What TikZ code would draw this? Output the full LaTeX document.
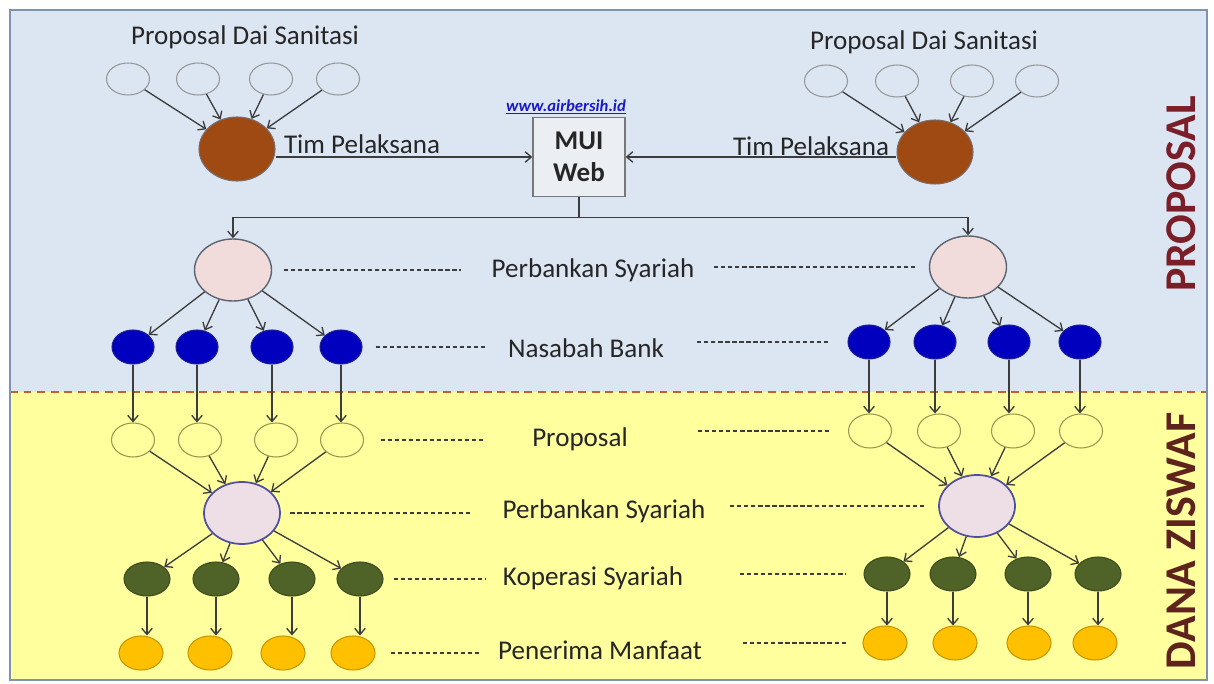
\documentclass[tikz,border=0pt]{standalone}
\usepackage{fontspec}
\setmainfont{Carlito}
\usetikzlibrary{arrows.meta,shapes.geometric}
\definecolor{topbg}{RGB}{220,230,242}
\definecolor{botbg}{RGB}{255,255,158}
\definecolor{frameln}{RGB}{127,147,175}
\definecolor{sepln}{RGB}{192,96,58}
\definecolor{lnc}{RGB}{60,60,60}
\definecolor{txt}{RGB}{38,38,38}
\definecolor{urlblue}{RGB}{25,25,200}
\definecolor{boxbg}{RGB}{235,238,242}
\definecolor{boxln}{RGB}{120,120,120}
\definecolor{brn}{RGB}{158,74,18}
\definecolor{brnln}{RGB}{120,110,110}
\definecolor{smln}{RGB}{150,150,150}
\definecolor{pinka}{RGB}{242,220,219}
\definecolor{pinkaln}{RGB}{90,100,115}
\definecolor{bluef}{RGB}{0,0,190}
\definecolor{blueln}{RGB}{30,30,150}
\definecolor{propln}{RGB}{150,150,80}
\definecolor{pinkb}{RGB}{238,222,230}
\definecolor{pinkbln}{RGB}{80,80,160}
\definecolor{grn}{RGB}{79,98,40}
\definecolor{grnln}{RGB}{60,75,30}
\definecolor{org}{RGB}{255,192,0}
\definecolor{orgln}{RGB}{200,150,0}
\definecolor{mara}{RGB}{122,30,40}
\definecolor{marb}{RGB}{95,35,30}

\begin{document}
\begin{tikzpicture}[x=0.2mm,y=-0.2mm,
  every node/.style={font=\fontsize{15.4}{18}\selectfont, text=txt},
  lbl/.style={inner sep=0pt},
  arr/.style={draw=lnc, line width=0.75pt, -{Straight Barb[length=3.5pt,width=6pt]}},
  guide/.style={draw=lnc, line width=0.7pt, dash pattern=on 2.4pt off 1.6pt},
  dot/.style={ellipse, inner sep=0pt, line width=0.6pt},
  smdot/.style={dot, draw=smln, minimum width=8.6mm, minimum height=6.4mm},
  tim/.style={dot, draw=brnln, fill=brn, minimum width=15.2mm, minimum height=12.8mm},
  banka/.style={dot, draw=pinkaln, fill=pinka, line width=0.8pt, minimum width=15.4mm, minimum height=12.4mm},
  nasabah/.style={dot, draw=blueln, fill=bluef, minimum width=8.4mm, minimum height=6.8mm},
  prop/.style={dot, draw=propln, minimum width=8.6mm, minimum height=6.8mm},
  bankb/.style={dot, draw=pinkbln, fill=pinkb, line width=1pt, minimum width=15.2mm, minimum height=12.4mm},
  kop/.style={dot, draw=grnln, fill=grn, minimum width=9.2mm, minimum height=6.8mm},
  terima/.style={dot, draw=orgln, fill=org, minimum width=8.8mm, minimum height=6.8mm},
  side/.style={rotate=90, font=\fontsize{25}{30}\selectfont\bfseries}]

\useasboundingbox (0,0) rectangle (1214,684);
\fill[white] (0,0) rectangle (1214,684);
\fill[topbg] (10,10) rectangle (1207,392);
\fill[botbg] (10,392) rectangle (1207,680);
\draw[sepln, line width=1.1pt, dash pattern=on 4.5pt off 3.2pt] (10,392) -- (1207,392);
\draw[frameln, line width=1.1pt] (10,10) rectangle (1207,680);

% proposal side
\node (judulA) at (245,37) {Proposal Dai Sanitasi};
\node (judulB) at (924,42) {Proposal Dai Sanitasi};
\foreach \x [count=\i] in {128,198,271,338}
  \node[smdot] (sA\i) at (\x,79) {};
\foreach \x [count=\i] in {826,897,972,1037}
  \node[smdot] (sB\i) at (\x,81) {};
\node[tim] (timA) at (237,149) {};
\node[tim] (timB) at (935,152) {};
\foreach \i in {1,...,4} {
  \draw[arr] (sA\i) -- (timA);
  \draw[arr] (sB\i) -- (timB);
}
\node[lbl] (tA) at (362,144) {Tim Pelaksana};
\node[lbl] (tB) at (811,146) {Tim Pelaksana};

\node[draw=boxln, fill=boxbg, line width=0.8pt, minimum width=18.4mm, minimum height=15.8mm,
  align=center, font=\fontsize{15.4}{18}\selectfont\bfseries] (mui) at (579,157) {MUI\\Web};
\node[font=\fontsize{9.5}{11}\selectfont\bfseries\itshape, text=urlblue] (url) at (566,107) {\underline{www.airbersih.id}};
\draw[arr] (timA.east |- mui.west) -- (mui.west);
\draw[arr] (timB.west |- mui.east) -- (mui.east);

\node[banka] (bankA) at (233,270) {};
\node[banka] (bankB) at (968,267) {};
\draw[arr] (mui.south) -- ++(0,20) -| (bankA);
\draw[arr] (mui.south) -- ++(0,20) -| (bankB);

\foreach \x [count=\i] in {133,197,272,341}
  \node[nasabah] (nA\i) at (\x,347) {};
\foreach \x [count=\i] in {869,935,1009,1080}
  \node[nasabah] (nB\i) at (\x,342) {};
\foreach \i in {1,...,4} {
  \draw[arr] (bankA) -- (nA\i);
  \draw[arr] (bankB) -- (nB\i);
}

% dana ziswaf side
\foreach \x [count=\i] in {133,200,276,342}
  \node[prop] (pA\i) at (\x,440) {};
\foreach \x [count=\i] in {870,939,1013,1081}
  \node[prop] (pB\i) at (\x,431) {};
\foreach \i in {1,...,4} {
  \draw[arr] (nA\i) -- (nA\i |- pA\i.north);
  \draw[arr] (nB\i) -- (nB\i |- pB\i.north);
}

\node[bankb] (bankC) at (242,513) {};
\node[bankb] (bankD) at (977,506) {};
\foreach \i in {1,...,4} {
  \draw[arr] (pA\i) -- (bankC);
  \draw[arr] (pB\i) -- (bankD);
}

\foreach \x [count=\i] in {147,216,292,360}
  \node[kop] (kA\i) at (\x,579) {};
\foreach \x [count=\i] in {887,953,1028,1098}
  \node[kop] (kB\i) at (\x,574) {};
\foreach \i in {1,...,4} {
  \draw[arr] (bankC) -- (kA\i);
  \draw[arr] (bankD) -- (kB\i);
}

\foreach \x [count=\i] in {141,210,283,353}
  \node[terima] (mA\i) at (\x,653) {};
\foreach \x [count=\i] in {885,955,1029,1095}
  \node[terima] (mB\i) at (\x,643) {};
\foreach \i in {1,...,4} {
  \draw[arr] (kA\i) -- (kA\i |- mA\i.north);
  \draw[arr] (kB\i) -- (kB\i |- mB\i.north);
}

% level labels
\node[lbl] (l1) at (593,270) {Perbankan Syariah};
\node[lbl] (l2) at (586,348) {Nasabah Bank};
\node[lbl] (l3) at (580,439) {Proposal};
\node[lbl] (l4) at (604,511) {Perbankan Syariah};
\node[lbl] (l5) at (593,578) {Koperasi Syariah};
\node[lbl] (l6) at (600,650) {Penerima Manfaat};

\draw[guide, shorten <=2.3mm, shorten >=6.1mm] (bankA.east) -- (bankA.east -| l1.west);
\draw[guide, shorten <=3.9mm, shorten >=2.3mm] (bankB.west -| l1.east) -- (bankB.west);
\draw[guide, shorten <=2.6mm, shorten >=4.6mm] (nA4.east) -- (nA4.east -| l2.west);
\draw[guide, shorten <=6.6mm, shorten >=3.6mm] (nB1.west -| l2.east) -- (nB1.west);
\draw[guide, shorten <=3.3mm, shorten >=9.4mm] (pA4.east) -- (pA4.east -| l3.west);
\draw[guide, shorten <=14mm, shorten >=3.5mm] (pB1.west -| l3.east) -- (pB1.west);
\draw[guide, shorten <=1.9mm, shorten >=6.3mm] (bankC.east) -- (bankC.east -| l4.west);
\draw[guide, shorten <=4.9mm, shorten >=2.6mm] (bankD.west -| l4.east) -- (bankD.west);
\draw[guide, shorten <=2mm, shorten >=3.3mm] (kA4.east) -- (kA4.east -| l5.west);
\draw[guide, shorten <=11.3mm, shorten >=3.4mm] (kB1.west -| l5.east) -- (kB1.west);
\draw[guide, shorten <=3mm, shorten >=3.4mm] (mA4.east) -- (mA4.east -| l6.west);
\draw[guide, shorten <=8.2mm, shorten >=3.2mm] (mB1.west -| l6.east) -- (mB1.west);

\node[side, text=mara] (sisiA) at (1181,194) {PROPOSAL};
\node[side, text=marb] (sisiB) at (1181,541) {DANA ZISWAF};
\end{tikzpicture}
\end{document}
